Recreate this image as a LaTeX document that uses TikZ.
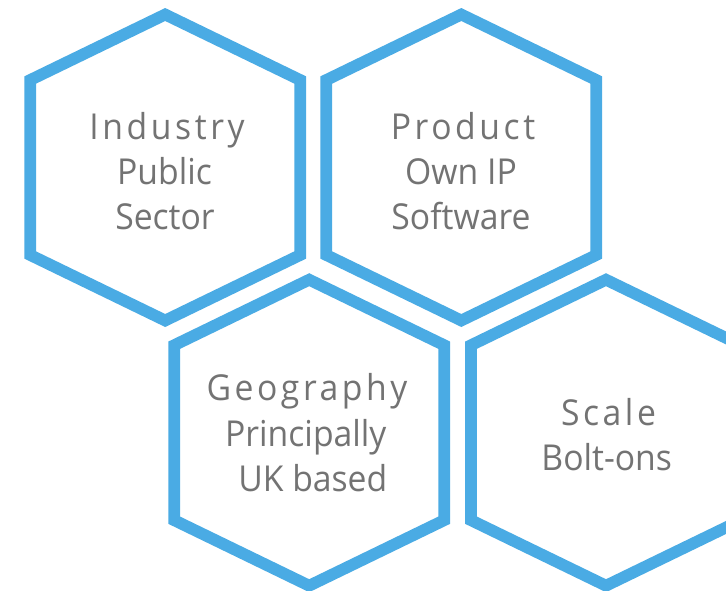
\documentclass[tikz,border=0pt]{standalone}
\usepackage{fontspec}
\setmainfont{Open Sans}[FakeStretch=0.944]
\newfontfamily\titlefont{Open Sans}[FakeStretch=0.944,LetterSpace=10]
\definecolor{hexblue}{RGB}{74,171,228}
\definecolor{txtgray}{RGB}{115,115,115}
\begin{document}
\begin{tikzpicture}[x=1pt,y=-1pt,
  hex/.style={draw=hexblue,line width=11.7pt,line join=miter},
  lbl/.style={anchor=base,text=txtgray,inner sep=0pt,font=\fontsize{35.7}{40}\selectfont},
  ttl/.style={anchor=base,text=txtgray,inner sep=0pt,font=\titlefont\fontsize{35.7}{40}\selectfont},
  hexcell/.pic={\draw[hex] (0,-153) -- (135,-87.5) -- (135,87.5) -- (0,153) -- (-135,87.5) -- (-135,-87.5) -- cycle;}]
\useasboundingbox (0,0) rectangle (726,590);
\clip (0,0) rectangle (726,590);
\fill[white] (0,0) rectangle (726,590);
\pic (h1) at (165.2,167.5) {hexcell};
\pic (h2) at (461.3,167.5) {hexcell};
\pic (h3) at (309.2,432.7) {hexcell};
\pic (h4) at (606,432.7) {hexcell};
% hexagon 1
\node[ttl] (t1) at (167,139.3) {Industry};
\node[lbl] (t1a) at (164.5,184) {Public};
\node[lbl] (t1b) at (165,229.3) {Sector};
% hexagon 2
\node[ttl] (t2) at (463,139.3) {Product};
\node[lbl] (t2a) at (461,184) {Own IP};
\node[lbl] (t2b) at (461,229.3) {Software};
% hexagon 3
\node[ttl] (t3) at (307,400) {Geography};
\node[lbl] (t3a) at (305.8,446.7) {Principally};
\node[lbl] (t3b) at (312.8,491.7) {UK based};
% hexagon 4
\node[ttl] (t4) at (608.5,425) {Scale};
\node[lbl] (t4a) at (606.7,470) {Bolt-ons};
\end{tikzpicture}
\end{document}
